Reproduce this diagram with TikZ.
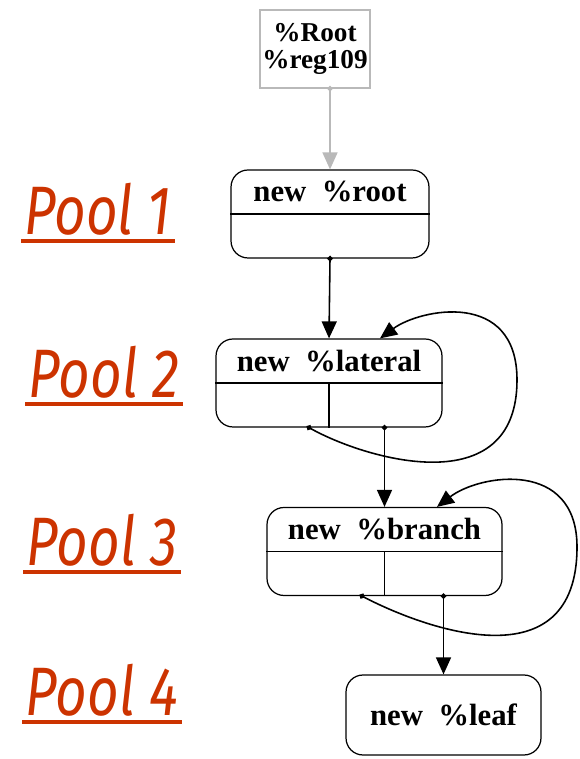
\documentclass[tikz,border=0pt]{standalone}
\usepackage{fontspec}
\setmainfont{Liberation Serif}
\newfontfamily\poolfont[FakeStretch=0.8]{Fira Sans}
\usetikzlibrary{arrows.meta, calc, positioning}
\definecolor{poolred}{RGB}{204,51,0}
\definecolor{edgegray}{RGB}{185,185,185}

\begin{document}
\begin{tikzpicture}[x=0.02cm, y=0.02cm,
    recbox/.style={rectangle, draw, line width=0.7pt, rounded corners=0.34cm,
                   minimum height=1.76cm, inner sep=0pt},
    rectitle/.style={font=\bfseries\fontsize{17.5}{20}\selectfont, inner sep=0pt},
    regbox/.style={rectangle, draw=edgegray, line width=0.7pt, minimum width=2.2cm,
                   minimum height=1.56cm, align=center, inner sep=0pt,
                   font=\bfseries\fontsize{15.5}{15.5}\selectfont},
    pool/.style={text=poolred, inner xsep=2pt, inner ysep=0.1cm, anchor=south,
                 font=\poolfont\itshape\fontsize{39}{40}\selectfont,
                 append after command={(\tikzlastnode.south west) edge[draw=poolred, line width=2.2pt] (\tikzlastnode.south east)}},
    flow/.style={{Circle[length=0.11cm]}-{Triangle[length=0.34cm, width=0.3cm]},
                 line width=0.9pt, shorten <=-0.055cm}]

    \useasboundingbox (0,0) rectangle (580,759);

    % Register box on top
    \node[regbox] (reg) at (315,710) {\%Root\\\%reg109};

    % Record boxes
    \node[recbox, minimum width=3.96cm] (root) at (330,545) {};
    \node[rectitle] (rootT) at ($(root.center)!0.5!(root.north)$) {new\ \ \%root};
    \draw[line width=0.7pt] (root.west) -- (root.east);

    \node[recbox, minimum width=4.52cm] (lat) at (329,376) {};
    \node[rectitle] (latT) at ($(lat.center)!0.5!(lat.north)$) {new\ \ \%lateral};
    \draw[line width=0.7pt] (lat.west) -- (lat.east);
    \draw[line width=0.7pt] (lat.center) -- (lat.south);

    \node[recbox, minimum width=4.7cm] (br) at (384.5,207.5) {};
    \node[rectitle] (brT) at ($(br.center)!0.5!(br.north)$) {new\ \ \%branch};
    \draw[line width=0.7pt] (br.west) -- (br.east);
    \draw[line width=0.7pt] (br.center) -- (br.south);

    \node[recbox, minimum width=3.9cm, minimum height=1.6cm,
          font=\bfseries\fontsize{17.5}{20}\selectfont] (leaf) at (443.5,44) {new\ \ \%leaf};

    % Edges between pools
    \draw[flow, draw=edgegray] (root.north |- reg.south) -- (root.north);
    \draw[flow] (root.south) -- (lat.north);
    \draw[flow] (br.north |- lat.south) -- (br.north);
    \draw[flow] (leaf.north |- br.south) -- (leaf.north);

    % Self loops
    \coordinate (latOut) at ($(lat.south)+(-20,0)$);
    \coordinate (latIn) at ($(lat.north)+(51,0)$);
    \draw[flow] (latOut) .. controls (365,300) and (517,255) .. (517,379)
                .. controls (517,470) and (420,450) .. (latIn);
    \coordinate (brOut) at ($(br.south)+(-22.5,0)$);
    \coordinate (brIn) at ($(br.north)+(52.5,0)$);
    \draw[flow] (brOut) .. controls (425,130) and (577,75) .. (577,212)
                .. controls (577,300) and (480,285) .. (brIn);

    % Pool labels
    \node[pool] (pool1) at (98,518) {Pool 1};
    \node[pool] (pool2) at (104,355) {Pool 2};
    \node[pool] (pool3) at (102,187) {Pool 3};
    \node[pool] (pool4) at (102,37) {Pool 4};

\end{tikzpicture}
\end{document}
